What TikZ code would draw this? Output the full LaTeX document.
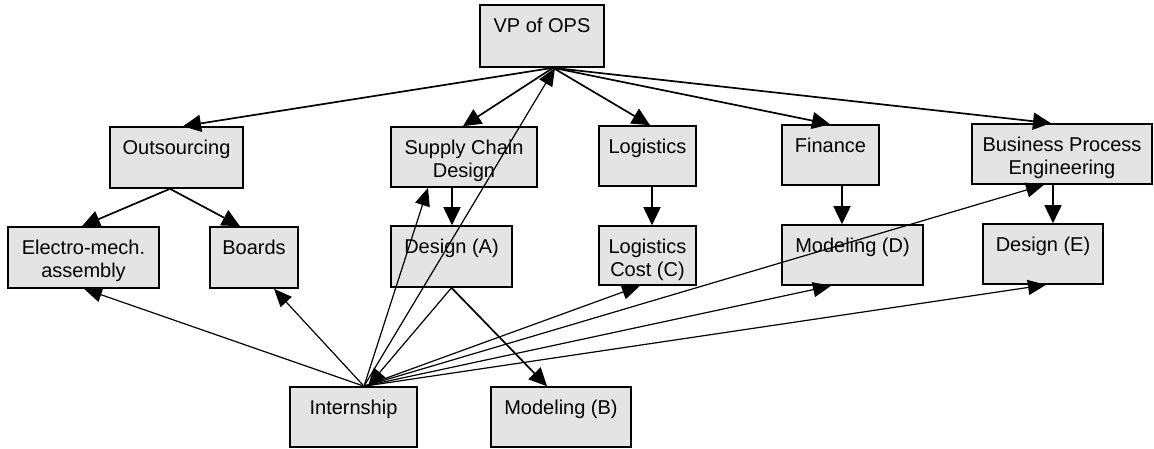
\documentclass[tikz,border=0pt]{standalone}
\usepackage{fontspec}
\setmainfont{Liberation Sans}
\usetikzlibrary{arrows.meta,calc}
\definecolor{boxfill}{RGB}{228,228,228}
\newcommand{\bxt}[3]{\parbox[t][#2][t]{#1}{\centering\rule{0pt}{27pt}#3}}
\begin{document}
\begin{tikzpicture}[x=1pt,y=-1pt,
  box/.style={draw, line width=1.6pt, fill=boxfill, inner sep=0pt, font=\fontsize{20}{23}\selectfont},
  tarr/.style={line width=1.7pt, -{Triangle[length=18pt,width=17pt]}},
  narr/.style={line width=1.2pt, -{Triangle[length=18pt,width=15pt]}}]
\useasboundingbox (0,0) rectangle (1154,448);
% nodes
\node[box] (vp)  at (542,36)    {\bxt{124pt}{62pt}{VP of OPS}};
\node[box] (out) at (176.5,157.5) {\bxt{133pt}{61pt}{Outsourcing}};
\node[box] (scd) at (464,157)   {\bxt{146pt}{60pt}{Supply Chain\\Design}};
\node[box] (log) at (647.5,156) {\bxt{97pt}{60pt}{Logistics}};
\node[box] (fin) at (830.5,155) {\bxt{97pt}{60pt}{Finance}};
\node[box] (bpe) at (1062,154)  {\bxt{180pt}{60pt}{Business Process\\Engineering}};
\node[box] (el)  at (83.5,257.5) {\bxt{151pt}{61pt}{Electro-mech.\\assembly}};
\node[box] (bo)  at (254,257.5) {\bxt{88pt}{61pt}{Boards}};
\node[box] (da)  at (451.5,256.5) {\bxt{121pt}{61pt}{Design (A)}};
\node[box] (lc)  at (647.5,255.5) {\bxt{97pt}{59pt}{Logistics\\Cost (C)}};
\node[box] (md)  at (852.5,255) {\bxt{141pt}{60pt}{Modeling (D)}};
\node[box] (de)  at (1043,254)  {\bxt{120pt}{60pt}{Design (E)}};
\node[box] (in)  at (353.5,417) {\bxt{127pt}{60pt}{Internship}};
\node[box] (mb)  at (561,417)   {\bxt{140pt}{60pt}{Modeling (B)}};
% connection points
\coordinate (vpo) at (vp.south -| 553,0);
\coordinate (io)  at (in.north -| 364,0);
\coordinate (oo)  at (out.south -| 170,0);
% thick connectors
\draw[tarr] (vpo) -- (out.north -| 183,0);
\draw[tarr] (vpo) -- (scd.north -| 463,0);
\draw[tarr] (vpo) -- (log.north -| 650,0);
\draw[tarr] (vpo) -- (fin.north -| 830,0);
\draw[tarr] (vpo) -- (bpe.north -| 1051,0);
\draw[tarr] (oo) -- (el.north -| 82,0);
\draw[tarr] (oo) -- (bo.north -| 240,0);
\draw[tarr] (scd.south -| 452,0) -- (da.north -| 452,0);
\draw[tarr] (log.south -| 652,0) -- (lc.north -| 652,0);
\draw[tarr] (fin.south -| 842,0) -- (md.north -| 842,0);
\draw[tarr] (bpe.south -| 1053,0) -- (de.north -| 1053,0);
\draw[tarr] (da.south) -- (mb.north -| 547,0);
% internship connectors
\draw[narr] (io) -- (el.south -| 84,0);
\draw[narr] (io) -- (bo.south -| 274,0);
\draw[narr] (io) -- (scd.south -| 428,0);
\draw[narr] (io) -- (vp.south -| 555,0);
\draw[narr] (io) -- (lc.south -| 640,0);
\draw[narr] (io) -- (bpe.south -| 1044,0);
\draw[narr] (io) -- (md.south -| 831,0);
\draw[narr] (io) -- (de.south -| 1046,0);
\draw[narr] (da.south) -- (in.north -| 368,0);
\end{tikzpicture}
\end{document}
